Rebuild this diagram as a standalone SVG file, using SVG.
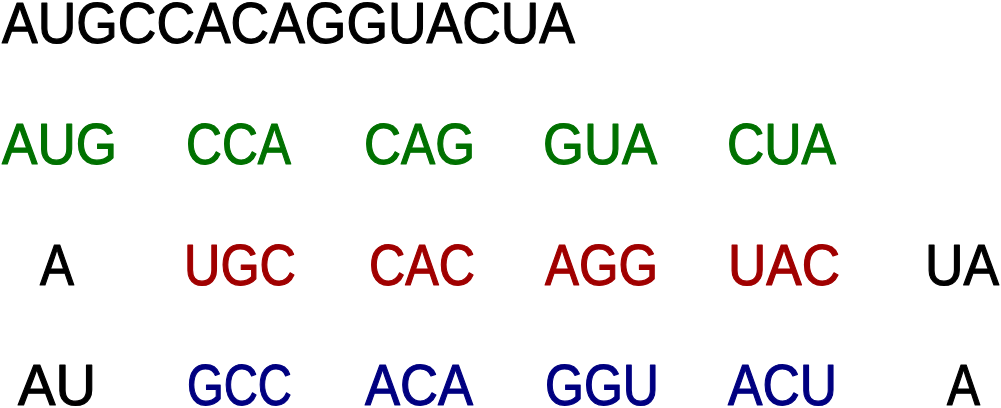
<svg xmlns="http://www.w3.org/2000/svg" width="1001" height="408" viewBox="0 0 1001 408">
<style>
text{font-family:"Liberation Sans","DejaVu Sans",sans-serif;font-size:57px;stroke-width:1.2px;stroke-linejoin:round;}
.k{fill:#000000;stroke:#000000;}
.g{fill:#007100;stroke:#007100;}
.r{fill:#a00000;stroke:#a00000;}
.b{fill:#000080;stroke:#000080;}
</style>
<rect width="1001" height="408" fill="#ffffff"/>
<g id="sequence">
<text class="k" x="2" y="43" textLength="573" lengthAdjust="spacingAndGlyphs">AUGCCACAGGUACUA</text>
</g>
<g id="frame1">
<text class="g" x="2" y="164" textLength="115" lengthAdjust="spacingAndGlyphs">AUG</text>
<text class="g" x="186" y="164" textLength="105" lengthAdjust="spacingAndGlyphs">CCA</text>
<text class="g" x="364" y="164" textLength="111" lengthAdjust="spacingAndGlyphs">CAG</text>
<text class="g" x="543" y="164" textLength="114" lengthAdjust="spacingAndGlyphs">GUA</text>
<text class="g" x="727" y="164" textLength="109" lengthAdjust="spacingAndGlyphs">CUA</text>
</g>
<g id="frame2">
<text class="k" x="40" y="285" textLength="34" lengthAdjust="spacingAndGlyphs">A</text>
<text class="r" x="184" y="285" textLength="112" lengthAdjust="spacingAndGlyphs">UGC</text>
<text class="r" x="369" y="285" textLength="106" lengthAdjust="spacingAndGlyphs">CAC</text>
<text class="r" x="545" y="285" textLength="113" lengthAdjust="spacingAndGlyphs">AGG</text>
<text class="r" x="728" y="285" textLength="112" lengthAdjust="spacingAndGlyphs">UAC</text>
<text class="k" x="925" y="285" textLength="74" lengthAdjust="spacingAndGlyphs">UA</text>
</g>
<g id="frame3">
<text class="k" x="18" y="405" textLength="78" lengthAdjust="spacingAndGlyphs">AU</text>
<text class="b" x="187" y="405" textLength="105" lengthAdjust="spacingAndGlyphs">GCC</text>
<text class="b" x="365" y="405" textLength="108" lengthAdjust="spacingAndGlyphs">ACA</text>
<text class="b" x="545" y="405" textLength="114" lengthAdjust="spacingAndGlyphs">GGU</text>
<text class="b" x="728" y="405" textLength="109" lengthAdjust="spacingAndGlyphs">ACU</text>
<text class="k" x="947" y="405" textLength="33" lengthAdjust="spacingAndGlyphs">A</text>
</g>
</svg>
